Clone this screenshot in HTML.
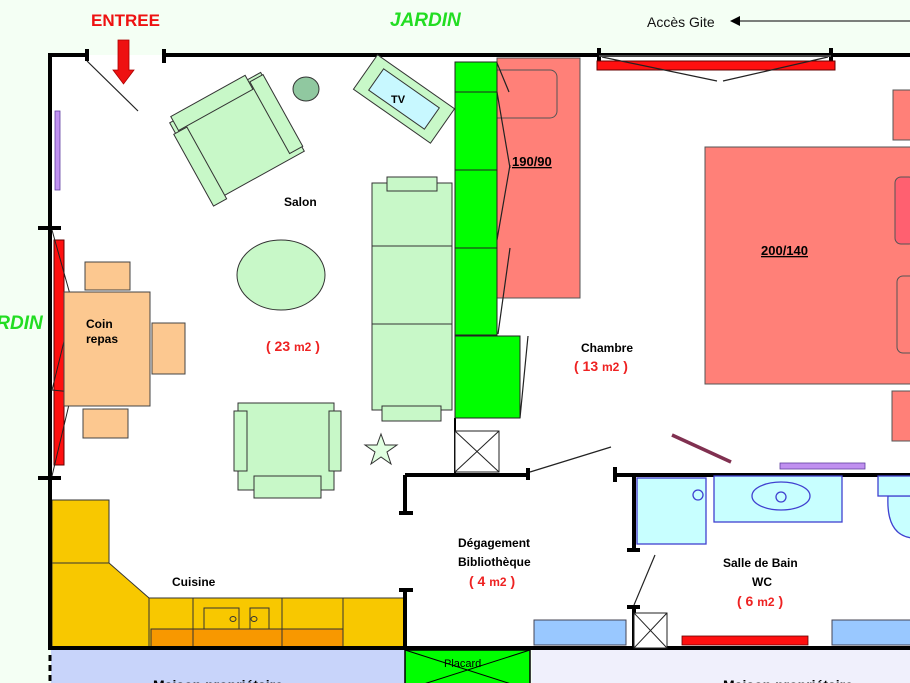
<!DOCTYPE html>
<html><head><meta charset="utf-8"><style>
html,body{margin:0;padding:0;background:#f4fff4;}
svg{display:block;font-family:"Liberation Sans",Arial,sans-serif;}
</style></head><body>
<svg width="910" height="683" viewBox="0 0 910 683" xmlns="http://www.w3.org/2000/svg">
<rect x="0" y="0" width="910" height="683" fill="#f4fff4"/>
<rect x="50" y="55" width="860" height="593" fill="#ffffff"/>
<rect x="51" y="650" width="354" height="40" fill="#c8d4fa"/>
<rect x="405" y="650" width="125" height="40" fill="#00ff00" stroke="#000" stroke-width="1.5"/>
<line x1="405" y1="650" x2="530" y2="690" stroke="#000"/>
<line x1="405" y1="690" x2="530" y2="650" stroke="#000"/>
<rect x="532" y="650" width="378" height="40" fill="#f0f0fc"/>
<text x="444" y="667" font-size="11" fill="#000">Placard</text>
<text x="153" y="690" font-size="14" font-weight="bold">Maison propriétaire</text>
<text x="723" y="690" font-size="14" font-weight="bold">Maison propriétaire</text>
<line x1="50" y1="655" x2="50" y2="683" stroke="#000" stroke-width="3" stroke-dasharray="6,4"/>

<g stroke="#333" stroke-width="1" fill="#f8c800">
<rect x="52" y="500" width="57" height="63"/>
<polygon points="52,563 109,563 149,598 149,648 52,648"/>
<rect x="149" y="598" width="44" height="50"/>
<rect x="193" y="598" width="89" height="50"/>
<rect x="282" y="598" width="61" height="50"/>
<rect x="343" y="598" width="61" height="50"/>
<rect x="151" y="629" width="42" height="18" fill="#f89800"/>
<rect x="193" y="629" width="89" height="18" fill="#f89800"/>
<rect x="282" y="629" width="61" height="18" fill="#f89800"/>
<rect x="204" y="608" width="35" height="21" fill="none"/>
<rect x="250" y="608" width="19" height="21" fill="none"/>
<ellipse cx="233" cy="619" rx="3" ry="2.5" fill="none"/>
<ellipse cx="254" cy="619" rx="3" ry="2.5" fill="none"/>
</g>

<g stroke="#000" stroke-width="4" fill="none">
<polyline points="87,55 50,55 50,648 910,648"/>
<line x1="164" y1="55" x2="910" y2="55"/>
<line x1="405" y1="475" x2="528" y2="475"/>
<line x1="405" y1="475" x2="405" y2="513"/>
<line x1="405" y1="590" x2="405" y2="648"/>
<line x1="615" y1="475" x2="910" y2="475"/>
<line x1="634" y1="475" x2="634" y2="550"/>
<line x1="634" y1="607" x2="634" y2="648"/>
</g>
<g stroke="#000" stroke-width="4">
<line x1="87" y1="49" x2="87" y2="61"/>
<line x1="164" y1="49" x2="164" y2="63"/>
<line x1="38" y1="228" x2="61" y2="228"/>
<line x1="38" y1="478" x2="61" y2="478"/>
<line x1="399" y1="513" x2="413" y2="513"/>
<line x1="399" y1="590" x2="413" y2="590"/>
<line x1="528" y1="468" x2="528" y2="480"/>
<line x1="615" y1="467" x2="615" y2="482"/>
<line x1="627" y1="550" x2="640" y2="550"/>
<line x1="627" y1="607" x2="640" y2="607"/>
<line x1="599" y1="48" x2="599" y2="61"/>
<line x1="831" y1="48" x2="831" y2="61"/>
</g>
<line x1="455" y1="418" x2="455" y2="475" stroke="#000" stroke-width="2"/>

<rect x="597" y="61" width="238" height="9" fill="#ff1010" stroke="#600" stroke-width="1"/>
<line x1="599" y1="56" x2="831" y2="56" stroke="#888" stroke-width="1"/>
<line x1="602" y1="57" x2="717" y2="81" stroke="#222" stroke-width="1.2"/>
<line x1="723" y1="81" x2="828" y2="57" stroke="#222" stroke-width="1.2"/>
<rect x="54" y="240" width="10" height="225" fill="#ff1010" stroke="#600" stroke-width="1"/>
<polyline points="52,230 73,305 52,390 72,392 52,476" stroke="#222" stroke-width="1" fill="none"/>
<line x1="87" y1="61" x2="138" y2="111" stroke="#222" stroke-width="1.2"/>
<rect x="55" y="111" width="5" height="79" fill="#c090f0" stroke="#6040a0" stroke-width="0.8"/>

<polygon points="118,40 129,40 129,70 134,70 123.5,84 113,70 118,70" fill="#ee1111" stroke="#a00" stroke-width="0.8"/>

<g fill="#fcc890" stroke="#444" stroke-width="1">
<rect x="85" y="262" width="45" height="28"/>
<rect x="152" y="323" width="33" height="51"/>
<rect x="83" y="409" width="45" height="29"/>
<rect x="64" y="292" width="86" height="114"/>
</g>
<text x="86" y="328" font-size="12" font-weight="bold">Coin</text>
<text x="86" y="343" font-size="12" font-weight="bold">repas</text>

<g fill="#c8f8c8" stroke="#333" stroke-width="1">
<g transform="translate(237,137) rotate(-29)">
<rect x="-52" y="-45" width="104" height="90"/>
<rect x="-48" y="-50" width="85" height="16"/>
<rect x="38" y="-42" width="15" height="82"/>
<rect x="-54" y="-33" width="15" height="82"/>
</g>
<g transform="translate(404,99) rotate(35)">
<rect x="-47" y="-21" width="94" height="42"/>
<rect x="-34" y="-13" width="68" height="26" fill="#c8f8ff"/>
</g>
<ellipse cx="281" cy="275" rx="44" ry="35"/>
<rect x="372" y="183" width="80" height="227"/>
<line x1="372" y1="246" x2="452" y2="246"/>
<line x1="372" y1="324" x2="452" y2="324"/>
<rect x="387" y="177" width="50" height="14"/>
<rect x="382" y="406" width="59" height="15"/>
<rect x="238" y="403" width="96" height="87"/>
<rect x="234" y="411" width="13" height="60"/>
<rect x="329" y="411" width="12" height="60"/>
<rect x="254" y="476" width="67" height="22"/>
</g>
<ellipse cx="306" cy="89" rx="13" ry="12" fill="#90c8a0" stroke="#333" stroke-width="1"/>
<text x="391" y="103" font-size="11" font-weight="bold">TV</text>
<polygon points="381,434 385,445 397,445 387,452 391,464 381,457 371,464 375,452 365,445 377,445" fill="#e0ffe0" stroke="#333" stroke-width="1"/>
<text x="284" y="206" font-size="12" font-weight="bold">Salon</text>
<text x="266" y="351" font-size="14" font-weight="bold" fill="#ee2222">( 23 <tspan font-size="12">m2</tspan> )</text>

<!-- beds -->
<g fill="#ff8078" stroke="#555" stroke-width="1">
<rect x="497" y="58" width="83" height="240"/>
<rect x="480" y="70" width="77" height="48" rx="7"/>
<rect x="705" y="147" width="210" height="237"/>
<rect x="893" y="90" width="20" height="50"/>
<rect x="892" y="391" width="20" height="50"/>
<rect x="895" y="177" width="20" height="67" rx="6" fill="#ff6070"/>
<rect x="897" y="276" width="20" height="77" rx="6"/>
</g>
<!-- green wardrobe -->
<g fill="#00ff00" stroke="#222" stroke-width="1">
<rect x="455" y="62" width="42" height="273"/>
<line x1="455" y1="92" x2="497" y2="92"/>
<line x1="455" y1="170" x2="497" y2="170"/>
<line x1="455" y1="248" x2="497" y2="248"/>
<rect x="455" y="336" width="65" height="82"/>
</g>
<g fill="#fff" stroke="#222" stroke-width="1">
<rect x="455" y="431" width="44" height="41"/>
<line x1="455" y1="431" x2="499" y2="472"/><line x1="499" y1="431" x2="455" y2="472"/>
<rect x="634" y="613" width="33" height="35"/>
<line x1="634" y1="613" x2="667" y2="648"/><line x1="667" y1="613" x2="634" y2="648"/>
</g>
<g stroke="#222" stroke-width="1.2">
<line x1="497" y1="63" x2="509" y2="92"/>
<line x1="497" y1="92" x2="510" y2="168"/>
<line x1="510" y1="165" x2="497" y2="240"/>
<line x1="510" y1="248" x2="498" y2="334"/>
<line x1="528" y1="336" x2="520" y2="418"/>
<line x1="530" y1="472" x2="611" y2="447"/>
<line x1="634" y1="605" x2="655" y2="555"/>
</g>
<text x="512" y="166" font-size="13" font-weight="bold" text-decoration="underline">190/90</text>
<text x="761" y="255" font-size="13" font-weight="bold" text-decoration="underline">200/140</text>
<text x="581" y="352" font-size="12" font-weight="bold">Chambre</text>
<text x="574" y="371" font-size="14" font-weight="bold" fill="#ee2222">( 13 <tspan font-size="12">m2</tspan> )</text>

<line x1="672" y1="435" x2="731" y2="462" stroke="#803050" stroke-width="3.5"/>
<rect x="780" y="463" width="85" height="6" fill="#c090f0" stroke="#6040a0" stroke-width="0.8"/>
<g fill="#c8ffff" stroke="#4040d0" stroke-width="1.3">
<rect x="637" y="478" width="69" height="66"/>
<circle cx="698" cy="495" r="5"/>
<rect x="714" y="476" width="128" height="46"/>
<ellipse cx="781" cy="496" rx="29" ry="14"/>
<circle cx="781" cy="497" r="5"/>
<path d="M888,496 Q886,535 912,538 L912,496 Z"/>
<rect x="878" y="476" width="34" height="20"/>
</g>
<g fill="#99c8ff" stroke="#445" stroke-width="1">
<rect x="534" y="620" width="92" height="25"/>
<rect x="832" y="620" width="80" height="25"/>
</g>
<rect x="682" y="636" width="126" height="9" fill="#ff1010" stroke="#600" stroke-width="0.8"/>

<text x="458" y="547" font-size="12" font-weight="bold">Dégagement</text>
<text x="458" y="566" font-size="12" font-weight="bold">Bibliothèque</text>
<text x="469" y="586" font-size="14" font-weight="bold" fill="#ee2222">( 4 <tspan font-size="12">m2</tspan> )</text>
<text x="723" y="567" font-size="12" font-weight="bold">Salle de Bain</text>
<text x="752" y="586" font-size="12" font-weight="bold">WC</text>
<text x="737" y="606" font-size="14" font-weight="bold" fill="#ee2222">( 6 <tspan font-size="12">m2</tspan> )</text>
<text x="172" y="586" font-size="12" font-weight="bold">Cuisine</text>

<text x="91" y="26" font-size="17" font-weight="bold" fill="#ee1111">ENTREE</text>
<text x="390" y="26" font-size="19" font-weight="bold" font-style="italic" fill="#22dd22">JARDIN</text>
<text x="-28" y="329" font-size="19" font-weight="bold" font-style="italic" fill="#22dd22">JARDIN</text>
<text x="647" y="27" font-size="14" fill="#111">Accès Gite</text>
<line x1="738" y1="21" x2="910" y2="21" stroke="#333" stroke-width="1.2"/>
<polygon points="730,21 740,16 740,26" fill="#000"/>
</svg>
</body></html>
